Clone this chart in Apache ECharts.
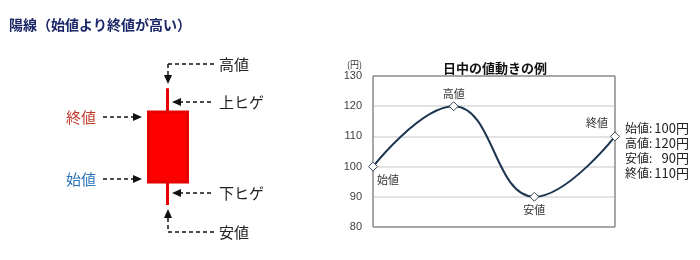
<!DOCTYPE html>
<html>
<head>
<meta charset="utf-8">
<script src="https://cdn.jsdelivr.net/npm/echarts@6/dist/echarts.min.js"></script>
<style>
  html, body { margin: 0; padding: 0; background: #fff; }
  #main { width: 700px; height: 260px; }
</style>
</head>
<body>
<div id="main"></div>
<script>
// 日中の値動き（始値・高値・安値・終値）
var priceNames = ['始値', '高値', '安値', '終値'];
var priceValues = [100, 120, 90, 110];
var yTicks = [80, 90, 100, 110, 120, 130];
// ローソク足の模式図 [始値, 終値, 安値, 高値]
var candleData = [[100, 110, 96.7, 113.4]];

var font = '"Noto Sans CJK JP", sans-serif';
var dom = document.getElementById('main');
var myChart = echarts.init(dom, null, { renderer: 'canvas' });

// 点線の矢印（注釈用）
function dashLine(x1, y1, x2, y2) {
    return {
        type: 'line',
        shape: { x1: x1, y1: y1, x2: x2, y2: y2 },
        style: { stroke: '#111', lineWidth: 1.5, lineDash: [4, 3] }
    };
}
function arrowHead(x, y, dir) {
    var p;
    if (dir == 'down') p = [[x - 4, y - 9], [x + 4, y - 9], [x, y]];
    else if (dir == 'up') p = [[x - 4, y + 9], [x + 4, y + 9], [x, y]];
    else if (dir == 'left') p = [[x + 9, y - 4], [x + 9, y + 4], [x, y]];
    else p = [[x - 9, y - 4], [x - 9, y + 4], [x, y]];
    return { type: 'polygon', shape: { points: p }, style: { fill: '#111' } };
}
function label(txt, x, y, color, size, weight) {
    return {
        type: 'text', x: x, y: y,
        style: {
            text: txt, fill: color || '#222', font: (weight || 'normal') + ' ' + (size || 15) + 'px ' + font,
            textVerticalAlign: 'middle', verticalAlign: 'middle'
        }
    };
}

var graphics = [
    label('陽線（始値より終値が高い）', 9, 25, '#1c2768', 14, 'bold'),
    // 高値
    dashLine(214, 64, 168, 64), dashLine(168, 64, 168, 76), arrowHead(168, 84, 'down'),
    label('高値', 219, 64),
    // 上ヒゲ
    dashLine(211, 102, 180, 102), arrowHead(172, 102, 'left'),
    label('上ヒゲ', 219, 102),
    // 終値
    label('終値', 66, 117, '#c0392b'),
    dashLine(103, 117, 134, 117), arrowHead(142, 117, 'right'),
    // 始値
    label('始値', 66, 179, '#2e75b6'),
    dashLine(103, 179, 134, 179), arrowHead(142, 179, 'right'),
    // 下ヒゲ
    dashLine(211, 193, 180, 193), arrowHead(172, 193, 'left'),
    label('下ヒゲ', 219, 193),
    // 安値
    arrowHead(168, 209, 'up'), dashLine(168, 218, 168, 232), dashLine(168, 232, 214, 232),
    label('安値', 219, 232),
    // 単位
    label('(円)', 347, 65, '#333', 9)
];

// 右側の値一覧
for (var i = 0; i < priceNames.length; i++) {
    var yy = 128 + i * 15;
    graphics.push(label(priceNames[i] + ':', 625, yy, '#222', 12));
    graphics.push({
        type: 'text', x: 689, y: yy,
        style: {
            text: priceValues[i] + '円', fill: '#222', font: '13px ' + font,
            align: 'right', textAlign: 'right', verticalAlign: 'middle', textVerticalAlign: 'middle'
        }
    });
}

var labelPos = [
    { position: 'bottom', distance: 3, offset: [15, 0] },
    { position: 'top', distance: 2 },
    { position: 'bottom', distance: 3 },
    { position: 'top', distance: 3, offset: [-18, 0] }
];
var lineData = priceValues.map(function (v, i) {
    return { value: v, label: labelPos[i] };
});

var option = {
    animation: false,
    title: {
        text: '日中の値動きの例', left: 490, top: 57, textAlign: 'center',
        textStyle: { fontFamily: font, fontSize: 13, fontWeight: 'bold', color: '#111' }
    },
    grid: [
        { left: 373, top: 76, width: 242, height: 151 },
        { left: 128, top: 42, width: 80, height: 210 }
    ],
    xAxis: [
        {
            gridIndex: 0, type: 'category', data: priceNames, boundaryGap: false,
            axisLine: { show: false }, axisTick: { show: false }, axisLabel: { show: false },
            splitLine: { show: true, lineStyle: { color: ['#8a8a8a', 'rgba(0,0,0,0)', 'rgba(0,0,0,0)', '#8a8a8a'], width: 1.5 } }
        },
        {
            gridIndex: 1, type: 'category', data: ['例'], show: false
        }
    ],
    yAxis: [
        {
            gridIndex: 0, type: 'value', min: yTicks[0], max: yTicks[yTicks.length - 1], interval: 10,
            axisLine: { show: false }, axisTick: { show: false },
            axisLabel: { color: '#404040', fontSize: 11, fontFamily: '"Liberation Sans", sans-serif', margin: 11 },
            splitLine: { lineStyle: { color: ['#8a8a8a', '#d9d9d9', '#d9d9d9', '#d9d9d9', '#d9d9d9', '#8a8a8a'], width: 1.5 } }
        },
        {
            gridIndex: 1, type: 'value', min: 90, max: 120, show: false
        }
    ],
    series: [
        {
            type: 'line', xAxisIndex: 0, yAxisIndex: 0,
            data: lineData, smooth: 0.45,
            symbol: 'diamond', symbolSize: 9,
            lineStyle: { color: '#1b3550', width: 2 },
            itemStyle: { color: '#fff', borderColor: '#3a4a5a', borderWidth: 1 },
            label: {
                show: true, formatter: '{b}', fontFamily: font, fontSize: 11, color: '#333'
            }
        },
        {
            type: 'candlestick', xAxisIndex: 1, yAxisIndex: 1,
            data: candleData, barWidth: 40,
            itemStyle: { color: '#ff0000', borderColor: '#e60000', borderWidth: 3 }
        }
    ],
    graphic: graphics
};

option && myChart.setOption(option);
</script>
</body>
</html>
